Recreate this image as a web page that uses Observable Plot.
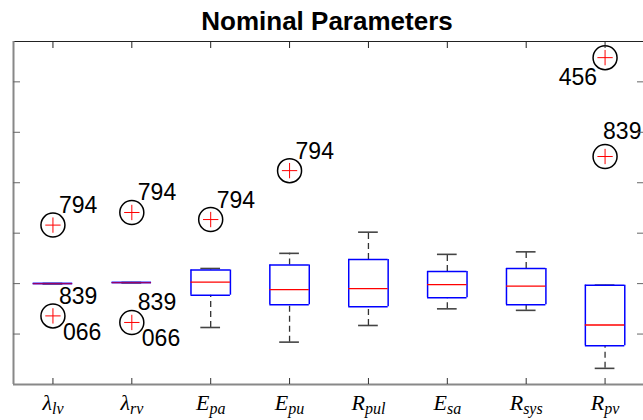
<!DOCTYPE html>
<html>
<head>
<meta charset="utf-8">
<script src="https://cdn.jsdelivr.net/npm/d3@7"></script>
<script src="https://cdn.jsdelivr.net/npm/@observablehq/plot@0.6"></script>
<style>
  html, body { margin: 0; padding: 0; background: #fff; overflow: hidden; }
  #wrap { position: relative; width: 643px; height: 420px; }
  #title { position: absolute; left: 0; top: 8px; width: 654px; text-align: center;
           font: bold 26px "Liberation Sans", Arial, sans-serif; line-height: 26px; color: #000; }
  #chart { position: absolute; left: 0; top: 0; }
</style>
</head>
<body>
<div id="wrap">
  <div id="chart"></div>
  <div id="title">Nominal Parameters</div>
</div>
<script>
// ---- data (arbitrary y units: one tick = 1) ----
const categories   = ["λ_lv", "λ_rv", "E_pa", "E_pu", "R_pul", "E_sa", "R_sys", "R_pv"];
const lowerWhisker = [0.00, 0.02, -0.87, -1.16, -0.83, -0.50, -0.53, -1.68];
const quartile1    = [0.00, 0.02, -0.23, -0.42, -0.46, -0.28, -0.42, -1.23];
const median       = [0.00, 0.02,  0.03, -0.12, -0.10, -0.02, -0.05, -0.82];
const quartile3    = [0.00, 0.02,  0.27,  0.37,  0.48,  0.24,  0.30, -0.03];
const upperWhisker = [0.00, 0.02,  0.30,  0.60,  1.02,  0.58,  0.63, -0.03];

const outlierCategory = ["λ_lv", "λ_lv", "λ_lv", "λ_rv", "λ_rv", "λ_rv", "E_pa", "E_pu", "R_pv", "R_pv"];
const outlierValue    = [1.16, -0.64, -0.64, 1.41, -0.77, -0.77, 1.27, 2.24, 4.48, 2.52];
const outlierLabel    = ["794", "839", "066", "794", "839", "066", "794", "794", "456", "839"];
const outlierSide     = ["ne", "ne", "se", "ne", "ne", "se", "ne", "ne", "sw", "n"];

const yTicks = [-1, 0, 1, 2, 3, 4];
const yDomain = [-2, 4.8];

// ---- derived tables ----
const boxes = categories.map((c, i) => ({
  pos: i + 1, lw: lowerWhisker[i], q1: quartile1[i], med: median[i], q3: quartile3[i], uw: upperWhisker[i]
}));
const outliers = outlierCategory.map((c, i) => ({
  pos: categories.indexOf(c) + 1, v: outlierValue[i], label: outlierLabel[i], side: outlierSide[i]
}));
// coincident outliers share one marker
const outlierPoints = outliers.filter((d, i) =>
  outliers.findIndex(e => e.pos === d.pos && e.v === d.v) === i);
const sideStyle = {
  ne: {dx: 6, dy: -12, textAnchor: "start"},
  se: {dx: 10, dy: 24, textAnchor: "start"},
  sw: {dx: -8, dy: 27, textAnchor: "end"},
  n:  {dx: -2, dy: -18, textAnchor: "start"}
};
const boxHalf = 0.25, capHalf = 0.125;
const xDomain = [0.5, categories.length + 0.5];
const positions = categories.map((c, i) => i + 1);

const labelMarks = Object.keys(sideStyle).map(side =>
  Plot.text(outliers.filter(d => d.side === side), {
    x: "pos", y: "v", text: "label", lineAnchor: "bottom",
    fontSize: 23, fill: "#000", ...sideStyle[side]
  })
);

const boxStroke = {stroke: "#0000ff", strokeWidth: 1.5};
const plot = Plot.plot({
  width: 643,
  height: 420,
  marginTop: 41,
  marginBottom: 36,
  marginLeft: 13,
  marginRight: 0,
  style: {fontFamily: "'Liberation Sans', Arial, sans-serif", background: "#fff", overflow: "visible"},
  x: {domain: xDomain, range: [13, 644], label: null},
  y: {domain: yDomain, range: [384, 41], label: null},
  marks: [
    // whiskers
    Plot.ruleX(boxes, {x: "pos", y1: "q3", y2: "uw", stroke: "#333", strokeWidth: 1.3, strokeDasharray: "6,4"}),
    Plot.ruleX(boxes, {x: "pos", y1: "lw", y2: "q1", stroke: "#333", strokeWidth: 1.3, strokeDasharray: "6,4"}),
    Plot.ruleY(boxes, {y: "uw", x1: d => d.pos - capHalf, x2: d => d.pos + capHalf, stroke: "#444", strokeWidth: 1.6}),
    Plot.ruleY(boxes, {y: "lw", x1: d => d.pos - capHalf, x2: d => d.pos + capHalf, stroke: "#444", strokeWidth: 1.6}),
    // boxes (edges drawn as rules so that a zero-height box still shows)
    Plot.ruleY(boxes, {y: "q1", x1: d => d.pos - boxHalf, x2: d => d.pos + boxHalf, ...boxStroke}),
    Plot.ruleY(boxes, {y: "q3", x1: d => d.pos - boxHalf, x2: d => d.pos + boxHalf, ...boxStroke}),
    Plot.ruleX(boxes, {x: d => d.pos - boxHalf, y1: "q1", y2: "q3", ...boxStroke}),
    Plot.ruleX(boxes, {x: d => d.pos + boxHalf, y1: "q1", y2: "q3", ...boxStroke}),
    Plot.ruleY(boxes, {y: "med", x1: d => d.pos - boxHalf, x2: d => d.pos + boxHalf, stroke: "#ff0000", strokeWidth: 1.3,
                       strokeOpacity: d => d.q1 === d.q3 ? 0.6 : 1}),
    // outliers
    Plot.dot(outlierPoints, {x: "pos", y: "v", r: 12, stroke: "#000", strokeWidth: 1.5, fill: "none"}),
    Plot.dot(outlierPoints, {x: "pos", y: "v", r: 5, symbol: "plus", stroke: "#ff0000", strokeWidth: 1}),
    ...labelMarks,
    // frame lines
    Plot.ruleY([yDomain[1]], {stroke: "#222", strokeWidth: 1}),
    Plot.ruleX([xDomain[0]], {stroke: "#888", strokeWidth: 2}),
    Plot.ruleY([yDomain[0]], {stroke: "#888", strokeWidth: 2}),
    // ticks (inward)
    Plot.axisY({anchor: "left", ticks: yTicks, tickSize: -7, tickFormat: () => "", stroke: "#666", label: null}),
    Plot.axisY({anchor: "right", ticks: yTicks, tickSize: -7, tickFormat: () => "", stroke: "#666", label: null}),
    Plot.axisX({anchor: "top", ticks: positions, tickSize: -6, tickFormat: () => "", stroke: "#222", label: null}),
    Plot.axisX({anchor: "bottom", ticks: positions, tickSize: -6, tickFormat: () => "", stroke: "#333", label: null}),
    // tick labels
    Plot.axisX({anchor: "bottom", ticks: positions, tickSize: 0, tickPadding: 10, label: null,
                tickFormat: p => categories[p - 1], fontSize: 22, fill: "#000",
                fontFamily: "'Liberation Serif', 'Times New Roman', serif", fontStyle: "italic"})
  ]
});
document.getElementById("chart").appendChild(plot);

// turn "X_sub" tick labels into main symbol + subscript
d3.select(plot).selectAll("text").each(function () {
  const t = this.textContent;
  if (!t.includes("_") || !categories.includes(t)) return;
  const [main, sub] = t.split("_");
  const el = d3.select(this);
  el.text("");
  el.append("tspan").text(main);
  el.append("tspan").text(sub).attr("font-size", 16).attr("dy", 4);
});
</script>
</body>
</html>
